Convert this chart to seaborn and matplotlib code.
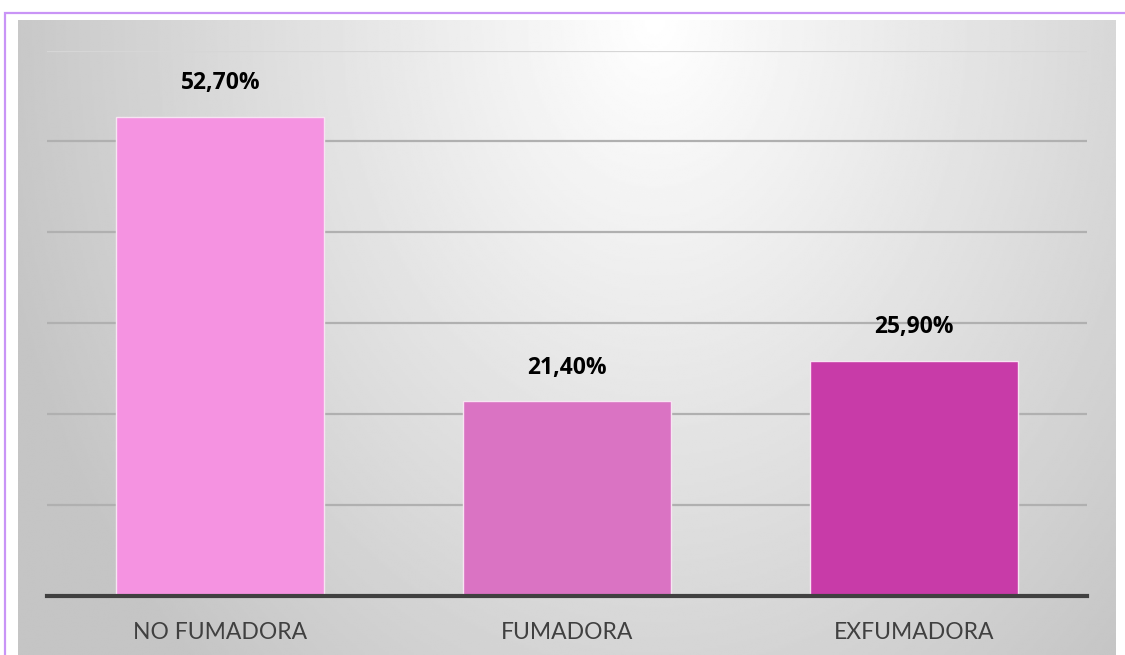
import numpy as np
import pandas as pd
import matplotlib
matplotlib.use("Agg")
import matplotlib.pyplot as plt
from matplotlib.patches import Rectangle
import seaborn as sns

# Smoking status shares (%)
categories = ["NO FUMADORA", "FUMADORA", "EXFUMADORA"]
values = [52.7, 21.4, 25.9]
labels = ["52,70%", "21,40%", "25,90%"]
colors = ["#F593E1", "#DA73C3", "#C83BA8"]

sns.set_theme(style="white")
plt.rcParams["font.family"] = ["Lato", "DejaVu Sans"]

W, H = 1125, 655
fig = plt.figure(figsize=(W / 100, H / 100), dpi=100)
fig.patch.set_facecolor("white")

# Chart frame with a soft radial grey gradient
bg = fig.add_axes([18 / W, 0, (1116 - 18) / W, (H - 20) / H], zorder=0)
ny, nx = 300, 600
yy, xx = np.mgrid[0:1:ny * 1j, 0:1:nx * 1j]
d = np.sqrt(((xx - 0.58) / 0.62) ** 2 + (yy / 1.4) ** 2)
shade = 1.0 - 0.23 * np.clip(d, 0, 1)
bg.imshow(shade, cmap="gray", vmin=0, vmax=1, aspect="auto",
          extent=[0, 1, 0, 1], origin="upper", interpolation="bilinear")
bg.set_axis_off()

# Outer lavender border
fig.patches.append(Rectangle((4.5 / W, -0.05), 1.2, (H - 13) / H + 0.05,
                             transform=fig.transFigure, fill=False,
                             edgecolor="#C994F6", linewidth=1.6, zorder=5))

ax = fig.add_axes([47 / W, (H - 596) / H, (1087 - 47) / W, (596 - 50.5) / H], zorder=1)
ax.patch.set_alpha(0)

df = pd.DataFrame({"estado": categories, "pct": values})
sns.barplot(data=df, x="estado", y="pct", hue="estado", palette=colors,
            order=categories, hue_order=categories, width=0.6, legend=False,
            saturation=1, edgecolor="#F7E4F2", linewidth=1, ax=ax, zorder=3)

ax.set_ylim(0, 60)
ax.set_xlim(-0.5, 2.5)
ax.set_yticks(np.arange(0, 61, 10))
ax.yaxis.grid(True, color="#B0B0B0", linewidth=1.6, zorder=0)
ax.set_axisbelow(True)
gls = ax.get_ygridlines()
gls[-1].set_color("#D6D6D6")
ax.tick_params(axis="y", left=False, labelleft=False)
ax.tick_params(axis="x", bottom=False, pad=13, labelsize=16.5, labelcolor="#404040")
for s in ["left", "right", "top"]:
    ax.spines[s].set_visible(False)
ax.spines["bottom"].set_color("#404040")
ax.spines["bottom"].set_linewidth(3)
ax.spines["bottom"].set_zorder(4)
ax.set_xlabel("")
ax.set_ylabel("")

for i, (v, lab) in enumerate(zip(values, labels)):
    ax.annotate(lab, (i, v), xytext=(0, 20), textcoords="offset points",
                ha="center", va="baseline", fontsize=16.5, fontweight="bold",
                family=["Open Sans", "DejaVu Sans"], color="black")

fig.savefig("out.png", dpi=100)
